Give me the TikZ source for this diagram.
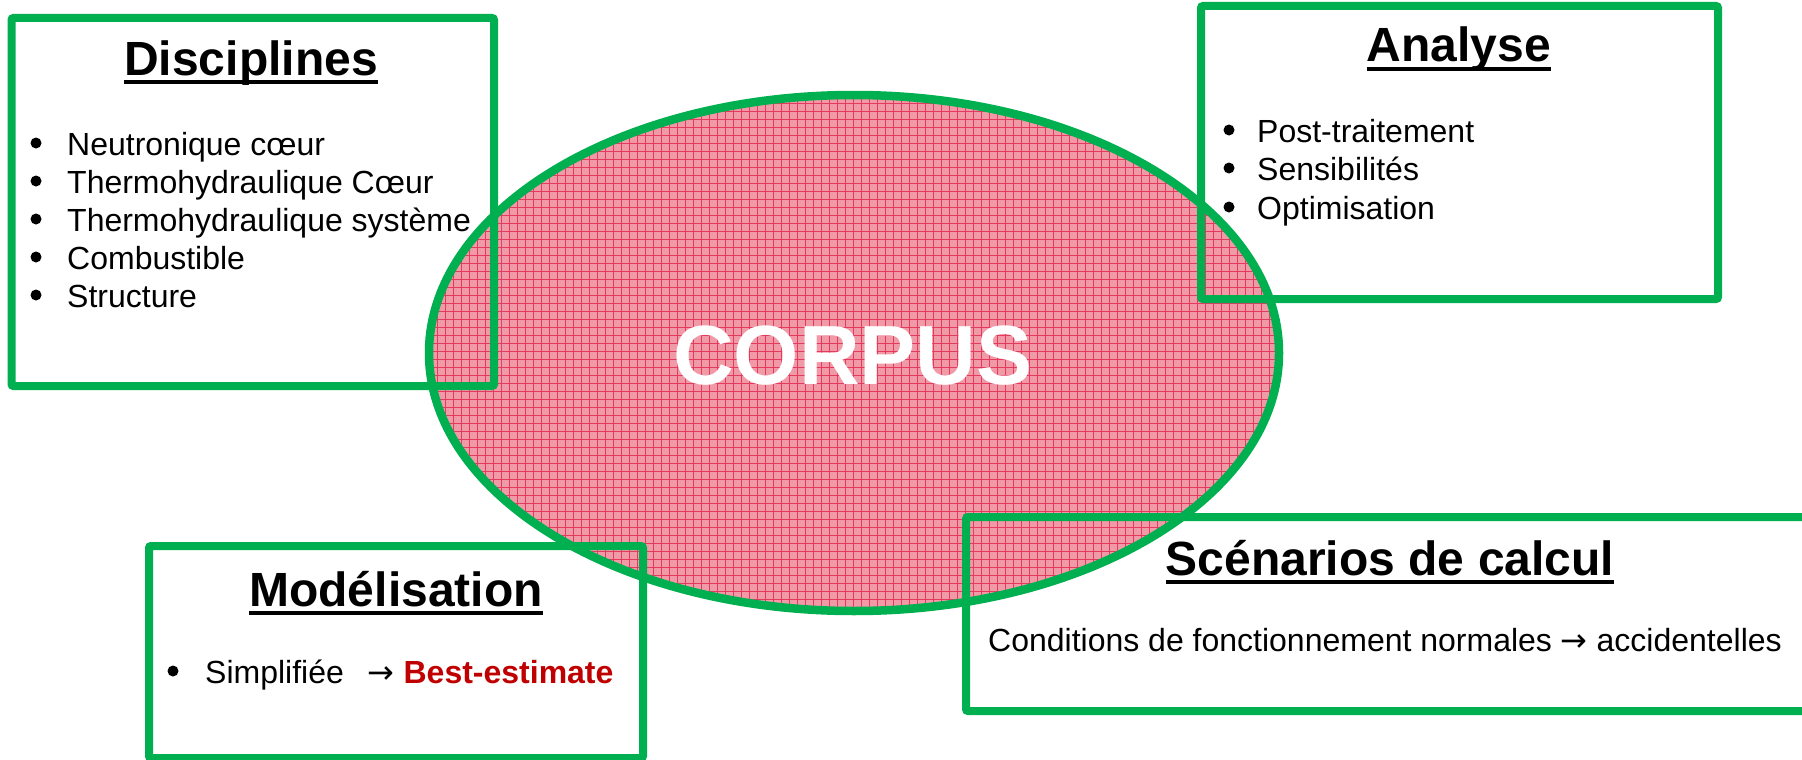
\documentclass[tikz,border=0pt]{standalone}
\usepackage{fontspec}
\setmainfont{Liberation Sans}
\newfontfamily\arrowfont{DejaVu Sans}
\usetikzlibrary{shapes.geometric}
\definecolor{pgreen}{HTML}{00B050}
\definecolor{pinkbg}{HTML}{F09AA8}
\definecolor{gridred}{HTML}{E43A5E}
\definecolor{dred}{HTML}{C00000}
\newcommand\ultitle[1]{\setbox0\hbox{#1}\rlap{\raisebox{-9pt}{\rule{\wd0}{4pt}}}\box0}
\newcommand\rarr{{\arrowfont →}}
\tikzset{
  gbox/.style={draw=pgreen, line width=8pt, rounded corners=2pt, inner sep=0pt},
  ttl/.style={anchor=base, inner sep=0pt, font=\fontsize{48}{56}\selectfont\bfseries},
  body/.style={anchor=base west, inner sep=0pt, font=\fontsize{32}{38}\selectfont},
  bul/.style={circle, fill=black, inner sep=0pt, minimum size=11pt},
}
\begin{document}
\begin{tikzpicture}[x=1pt,y=-1pt]
\clip (0,0) rectangle (1802,760);
\fill[white] (0,0) rectangle (1802,760);
% ellipse
\node[ellipse, draw=pgreen, line width=8.5pt, fill=pinkbg, minimum width=850pt, minimum height=516pt,
  path picture={
    \foreach \i in {0,...,110}{
      \draw[gridred, line width=1pt] ([xshift=\i*8pt]path picture bounding box.north west) -- ([xshift=\i*8pt]path picture bounding box.south west);
    }
    \foreach \j in {0,...,68}{
      \draw[gridred, line width=1pt] ([yshift=-\j*8pt]path picture bounding box.north west) -- ([yshift=-\j*8pt]path picture bounding box.north east);
    }
  }] (corpus) at (854,353) {};
\node[inner sep=0pt, text=white, font=\fontsize{84}{90}\selectfont\bfseries] (corpustxt) at (853,356) {CORPUS};
% boxes
\node[gbox, minimum width=482.5pt, minimum height=368pt] (disc) at (252.75,202) {};
\node[gbox, minimum width=517pt, minimum height=293pt] (anal) at (1459.5,152.5) {};
\node[gbox, minimum width=494pt, minimum height=212pt] (model) at (396,652) {};
\node[gbox, minimum width=846pt, minimum height=194pt] (scen) at (1389,614) {};
% Disciplines
\node[ttl] (discT) at (251,75) {\ultitle{Disciplines}};
\node[bul] (db1) at (36,143) {};
\node[body] (d1) at (67,155) {Neutronique cœur};
\node[bul] (db2) at (36,181) {};
\node[body] (d2) at (67,193) {Thermohydraulique Cœur};
\node[bul] (db3) at (36,219) {};
\node[body] (d3) at (67,231) {Thermohydraulique système};
\node[bul] (db4) at (36,257) {};
\node[body] (d4) at (67,269) {Combustible};
\node[bul] (db5) at (36,295) {};
\node[body] (d5) at (67,307) {Structure};
% Analyse
\node[ttl] (analT) at (1459,62) {\ultitle{Analyse}};
\node[bul] (ab1) at (1229,130) {};
\node[body] (a1) at (1257,142) {Post-traitement};
\node[bul] (ab2) at (1229,168) {};
\node[body] (a2) at (1257,180) {Sensibilités};
\node[bul] (ab3) at (1229,207) {};
\node[body] (a3) at (1257,219) {Optimisation};
% Modelisation
\node[ttl] (modelT) at (396,606) {\ultitle{Modélisation}};
\node[bul] (mb1) at (173,671) {};
\node[body] (m1) at (205,683) {Simplifiée\hspace{24pt}\rarr\ \textcolor{dred}{\bfseries Best-estimate}};
% Scenarios
\node[ttl] (scenT) at (1390,575) {\ultitle{Scénarios de calcul}};
\node[body] (s1) at (988,651) {Conditions de fonctionnement normales \rarr\ accidentelles};
\end{tikzpicture}
\end{document}
